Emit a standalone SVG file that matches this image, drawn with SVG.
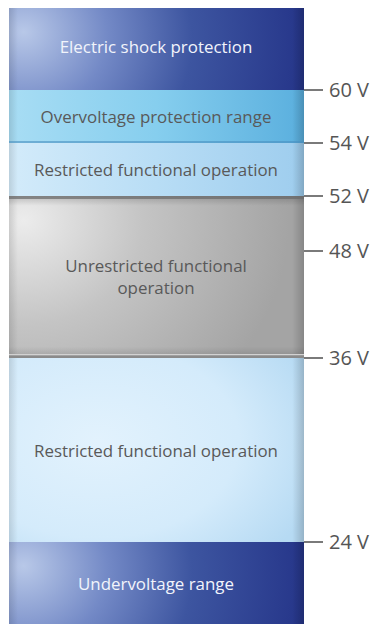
<svg xmlns="http://www.w3.org/2000/svg" width="374" height="628" viewBox="0 0 374 628">
<defs>
<radialGradient id="gNavy" cx="0.05" cy="0.45" r="0.95" fx="0.05" fy="0.4" gradientTransform="translate(0.05 0.45) scale(1 3.2) translate(-0.05 -0.45)">
<stop offset="0" stop-color="#b8c8e8"/>
<stop offset="0.3" stop-color="#7389c6"/>
<stop offset="0.6" stop-color="#3d55a0"/>
<stop offset="1" stop-color="#26368a"/>
</radialGradient>
<linearGradient id="gOver" x1="0" y1="0" x2="1" y2="0">
<stop offset="0" stop-color="#a8ddf4"/>
<stop offset="0.5" stop-color="#86ceee"/>
<stop offset="1" stop-color="#5aafde"/>
</linearGradient>
<linearGradient id="gRest" x1="0" y1="0" x2="1" y2="0">
<stop offset="0" stop-color="#d3ebfa"/>
<stop offset="0.5" stop-color="#b8ddf5"/>
<stop offset="1" stop-color="#9ecdee"/>
</linearGradient>
<radialGradient id="gGrey" cx="0.05" cy="0.15" r="0.9" fx="0.05" fy="0.15" gradientTransform="translate(0.05 0.15) scale(1 1.6) translate(-0.05 -0.15)">
<stop offset="0" stop-color="#ececec"/>
<stop offset="0.45" stop-color="#c4c4c4"/>
<stop offset="1" stop-color="#a4a4a4"/>
</radialGradient>
<radialGradient id="gRest2" cx="0.3" cy="0.45" r="0.8" gradientTransform="translate(0.3 0.45) scale(1 1.1) translate(-0.3 -0.45)">
<stop offset="0" stop-color="#e2f2fd"/>
<stop offset="0.6" stop-color="#d4ebfb"/>
<stop offset="1" stop-color="#b6daf3"/>
</radialGradient>
<linearGradient id="edgeShade" x1="0" y1="0" x2="1" y2="0">
<stop offset="0" stop-color="#000" stop-opacity="0.12"/>
<stop offset="0.03" stop-color="#000" stop-opacity="0"/>
<stop offset="0.96" stop-color="#000" stop-opacity="0"/>
<stop offset="1" stop-color="#000" stop-opacity="0.18"/>
</linearGradient>
<linearGradient id="vShade" x1="0" y1="0" x2="0" y2="1">
<stop offset="0" stop-color="#000" stop-opacity="0.18"/>
<stop offset="0.06" stop-color="#000" stop-opacity="0"/>
<stop offset="0.93" stop-color="#000" stop-opacity="0"/>
<stop offset="1" stop-color="#000" stop-opacity="0.15"/>
</linearGradient>
</defs>
<style>
.lbl{font-family:"Open Sans","Liberation Sans",sans-serif;font-size:16.9px;text-anchor:middle}
.dk{fill:#595959}
.lt{fill:#f2f4fb}
.v{font-family:"Open Sans","Liberation Sans",sans-serif;font-size:20px;fill:#555}
.tick{stroke:#7a7a7a;stroke-width:2}
.shade{fill:url(#edgeShade)}
</style>
<rect x="0" y="0" width="374" height="628" fill="#ffffff"/>

<g id="electric-shock">
<rect x="9" y="8" width="295" height="82" fill="url(#gNavy)"/>
<rect x="9" y="8" width="295" height="82" class="shade"/>
<text x="156" y="53" class="lbl lt">Electric shock protection</text>
</g>

<g id="overvoltage">
<rect x="9" y="90" width="295" height="53" fill="url(#gOver)"/>
<rect x="9" y="90" width="295" height="53" class="shade"/>
<rect x="9" y="141" width="295" height="2" fill="#4a8fbf" opacity="0.6"/>
<text x="156" y="123" class="lbl dk">Overvoltage protection range</text>
</g>

<g id="restricted-upper">
<rect x="9" y="143" width="295" height="53" fill="url(#gRest)"/>
<rect x="9" y="143" width="295" height="53" class="shade"/>
<text x="156" y="176" class="lbl dk">Restricted functional operation</text>
</g>

<g id="unrestricted">
<rect x="9" y="196" width="295" height="162" fill="url(#gGrey)"/>
<rect x="9" y="196" width="295" height="162" fill="url(#vShade)"/>
<rect x="9" y="196" width="295" height="162" class="shade"/>
<rect x="9" y="196" width="295" height="3" fill="#6a6a6a" opacity="0.7"/>
<rect x="9" y="354" width="295" height="1.5" fill="#d2d2d2"/>
<rect x="9" y="355.5" width="295" height="2.5" fill="#8a8a8a"/>
<text x="156" y="272" class="lbl dk">Unrestricted functional</text>
<text x="156" y="294" class="lbl dk">operation</text>
</g>

<g id="restricted-lower">
<rect x="9" y="358" width="295" height="184" fill="url(#gRest2)"/>
<rect x="9" y="358" width="295" height="184" class="shade"/>
<text x="156" y="457" class="lbl dk">Restricted functional operation</text>
</g>

<g id="undervoltage">
<rect x="9" y="542" width="295" height="82" fill="url(#gNavy)"/>
<rect x="9" y="542" width="295" height="82" class="shade"/>
<text x="156" y="590" class="lbl lt">Undervoltage range</text>
</g>

<g id="connectors">
<line x1="304" y1="90" x2="323" y2="90" class="tick"/>
<line x1="304" y1="143" x2="323" y2="143" class="tick"/>
<line x1="304" y1="196" x2="323" y2="196" class="tick"/>
<line x1="304" y1="251" x2="323" y2="251" class="tick"/>
<line x1="304" y1="358" x2="323" y2="358" class="tick"/>
<line x1="304" y1="542" x2="323" y2="542" class="tick"/>
</g>

<g id="voltage-labels">
<text x="329" y="97" class="v">60 V</text>
<text x="329" y="150" class="v">54 V</text>
<text x="329" y="203" class="v">52 V</text>
<text x="329" y="258" class="v">48 V</text>
<text x="329" y="365" class="v">36 V</text>
<text x="329" y="549" class="v">24 V</text>
</g>
</svg>
